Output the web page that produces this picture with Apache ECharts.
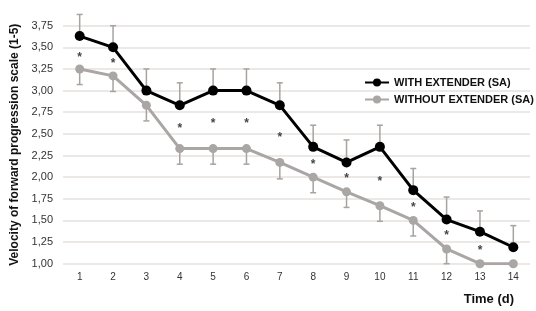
<!DOCTYPE html>
<html>
<head>
<meta charset="utf-8">
<script src="https://cdn.jsdelivr.net/npm/echarts@6/dist/echarts.min.js"></script>
<style>html,body{margin:0;padding:0;background:#fff;}#c{width:536px;height:311px;}</style>
</head>
<body>
<div id="c"></div>
<script>
const days = ['1','2','3','4','5','6','7','8','9','10','11','12','13','14'];
const withExt = [3.63,3.50,3.00,2.83,3.00,3.00,2.83,2.35,2.17,2.35,1.85,1.51,1.37,1.19];
const withExtErr = [0.25,0.25,0.25,0.26,0.25,0.25,0.26,0.25,0.26,0.25,0.25,0.26,0.24,0.25];
const withoutExt = [3.25,3.17,2.83,2.33,2.33,2.33,2.17,2.00,1.83,1.67,1.50,1.17,1.00,1.00];
const withoutErr = [0.18,0.18,0.18,0.18,0.18,0.18,0.19,0.18,0.18,0.18,0.18,0.17,0,0];
const starY = [3.42,3.34,null,2.60,2.65,2.65,2.49,2.18,2.02,1.98,1.68,1.36,1.18,null];
const yTicks = {min:1, max:3.75, interval:0.25};
const nameA = 'WITH EXTENDER (SA)';
const nameB = 'WITHOUT EXTENDER (SA)';
const FONT = '"Liberation Sans", Arial, sans-serif';

function errSeries(vals, errs, dir) {
  return {
    type: 'custom',
    silent: true,
    z: 1,
    clip: false,
    data: vals.map((v,i)=>[i, v, v + dir*errs[i]]),
    renderItem: function(params, api) {
      const x = api.value(0), v = api.value(1), e = api.value(2);
      if (v === e) return null;
      const p0 = api.coord([x, v]);
      const p1 = api.coord([x, e]);
      const style = {stroke:'#a7a3a1', lineWidth:1.5};
      return {type:'group', children:[
        {type:'line', shape:{x1:p0[0],y1:p0[1],x2:p1[0],y2:p1[1]}, style:style},
        {type:'line', shape:{x1:p1[0]-3,y1:p1[1],x2:p1[0]+3,y2:p1[1]}, style:style}
      ]};
    }
  };
}

const chart = echarts.init(document.getElementById('c'));
chart.setOption({
  animation: false,
  backgroundColor: '#fff',
  grid: {left: 63, right: 6, top: 25.7, bottom: 47.3},
  title: {text: 'Time (d)', right: 17, top: 288,
    textStyle: {fontFamily: FONT, fontWeight: 'bold', fontSize: 13, color: '#111'}},
  legend: {
    data: [nameA, nameB], orient: 'vertical', left: 359, top: 72,
    itemWidth: 24, itemHeight: 10, itemGap: 6,
    textStyle: {fontFamily: FONT, fontWeight: 'bold', fontSize: 11, color: '#111'}
  },
  xAxis: {
    type: 'category', data: days, boundaryGap: true,
    axisLine: {show: false}, axisTick: {show: false},
    axisLabel: {fontFamily: FONT, fontSize: 10, color: '#333', margin: 9}
  },
  yAxis: {
    type: 'value', min: yTicks.min, max: yTicks.max, interval: yTicks.interval,
    name: 'Velocity of forward progression scale (1-5)', nameLocation: 'middle', nameGap: 42,
    nameTextStyle: {fontFamily: FONT, fontWeight: 'bold', fontSize: 12, color: '#111'},
    axisLine: {show: false}, axisTick: {show: false},
    splitLine: {lineStyle: {color: '#e6e1de', width: 1.5}},
    axisLabel: {fontFamily: FONT, fontSize: 11, color: '#333', margin: 10,
      formatter: v => v.toFixed(2).replace('.', ',')}
  },
  series: [
    errSeries(withExt, withExtErr, 1),
    errSeries(withoutExt, withoutErr, -1),
    {name: nameB, type: 'line', data: withoutExt, z: 3,
     symbol: 'circle', symbolSize: 9,
     lineStyle: {color: '#a9a6a5', width: 3},
     itemStyle: {color: '#a9a6a5'}},
    {name: nameA, type: 'line', data: withExt, z: 4,
     symbol: 'circle', symbolSize: 10,
     lineStyle: {color: '#000', width: 3},
     itemStyle: {color: '#000'}},
    {type: 'scatter', data: starY, symbolSize: 0, z: 5, silent: true,
     label: {show: true, position: 'inside', formatter: '*', offset: [0, 3],
       fontFamily: FONT, fontSize: 12, fontWeight: 'bold', color: '#111'}}
  ]
});
</script>
</body>
</html>
